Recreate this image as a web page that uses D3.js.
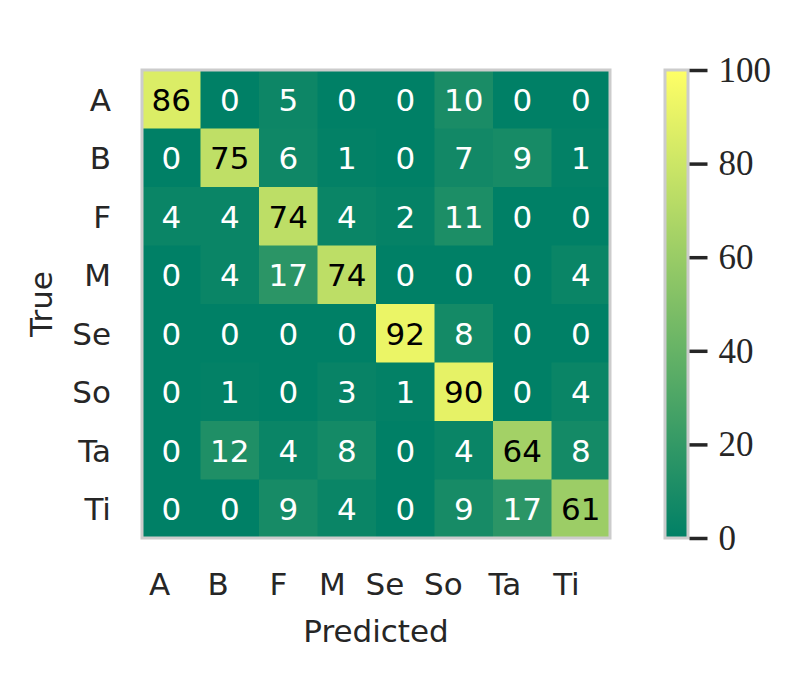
<!DOCTYPE html>
<html><head><meta charset="utf-8">
<script src="https://cdn.jsdelivr.net/npm/d3@7"></script>
<style>body{margin:0;background:#fff;}</style>
</head><body>
<svg id="c" width="797" height="674"></svg>
<script>
const rowLabels = ["A","B","F","M","Se","So","Ta","Ti"];
const colLabels = ["A","B","F","M","Se","So","Ta","Ti"];
const rowA  = [86,0,5,0,0,10,0,0];
const rowB  = [0,75,6,1,0,7,9,1];
const rowF  = [4,4,74,4,2,11,0,0];
const rowM  = [0,4,17,74,0,0,0,4];
const rowSe = [0,0,0,0,92,8,0,0];
const rowSo = [0,1,0,3,1,90,0,4];
const rowTa = [0,12,4,8,0,4,64,8];
const rowTi = [0,0,9,4,0,9,17,61];
const matrix = [rowA,rowB,rowF,rowM,rowSe,rowSo,rowTa,rowTi];
const cbTicks = [0,20,40,60,80,100];

const svg = d3.select("#c");
const L=142, T=70, S=468;
const x = d3.scaleBand().domain(colLabels).range([L,L+S]);
const y = d3.scaleBand().domain(rowLabels).range([T,T+S]);
// matplotlib "summer" colormap
const color = v => { const t=v/100; return d3.rgb(255*t, 255*(0.5+0.5*t), 102).toString(); };

const cells=[];
matrix.forEach((r,i)=>r.forEach((v,j)=>cells.push({r:rowLabels[i],c:colLabels[j],v})));

svg.append("g").selectAll("rect").data(cells).join("rect")
  .attr("x",d=>x(d.c)).attr("y",d=>y(d.r))
  .attr("width",x.bandwidth()+0.5).attr("height",y.bandwidth()+0.5)
  .attr("fill",d=>color(d.v));
svg.append("g").selectAll("text").data(cells).join("text")
  .attr("x",d=>x(d.c)+x.bandwidth()/2).attr("y",d=>y(d.r)+y.bandwidth()/2)
  .attr("text-anchor","middle").attr("dy","0.37em")
  .attr("font-family","DejaVu Sans").attr("font-size",31)
  .attr("fill",d=>d.v>=50?"#000":"#fff").text(d=>d.v);
svg.append("rect").attr("x",L).attr("y",T).attr("width",S).attr("height",S)
  .attr("fill","none").attr("stroke","#cccccc").attr("stroke-width",3);

// axes labels
svg.append("g").selectAll("text").data(colLabels).join("text")
  .attr("x",d=>x(d)+x.bandwidth()/2-1).attr("y",595)
  .attr("text-anchor","end").attr("font-family","DejaVu Sans").attr("font-size",31)
  .attr("fill","#262626").text(d=>d);
svg.append("g").selectAll("text").data(rowLabels).join("text")
  .attr("x",111).attr("y",d=>y(d)+y.bandwidth()/2).attr("dy","0.37em")
  .attr("text-anchor","end").attr("font-family","DejaVu Sans").attr("font-size",31)
  .attr("fill","#262626").text(d=>d);
svg.append("text").attr("x",L+S/2).attr("y",642).attr("text-anchor","middle")
  .attr("font-family","DejaVu Sans").attr("font-size",31).attr("fill","#262626").text("Predicted");
svg.append("text").attr("transform",`translate(52,${T+S/2}) rotate(-90)`).attr("text-anchor","middle")
  .attr("font-family","DejaVu Sans").attr("font-size",31).attr("fill","#262626").text("True");

// colorbar
const cbX=665, cbW=23;
const cy = d3.scaleLinear().domain([0,100]).range([T+S,T]);
const defs=svg.append("defs");
const grad=defs.append("linearGradient").attr("id","g").attr("x1",0).attr("y1",1).attr("x2",0).attr("y2",0);
d3.range(0,101,10).forEach(v=>grad.append("stop").attr("offset",v/100).attr("stop-color",color(v)));
svg.append("rect").attr("x",cbX).attr("y",T).attr("width",cbW).attr("height",S).attr("fill","url(#g)");
svg.append("rect").attr("x",cbX).attr("y",T).attr("width",cbW).attr("height",S)
  .attr("fill","none").attr("stroke","#cccccc").attr("stroke-width",3);
const ax = svg.append("g").attr("transform",`translate(${cbX+cbW+1.5},0)`)
  .call(d3.axisRight(cy).tickValues(cbTicks).tickSize(18).tickPadding(11));
ax.select(".domain").remove();
ax.selectAll("line").attr("stroke","#262626").attr("stroke-width",3.5);
ax.selectAll("text").attr("font-family","Liberation Serif").attr("font-size",35).attr("fill","#262626");
</script>
</body></html>
